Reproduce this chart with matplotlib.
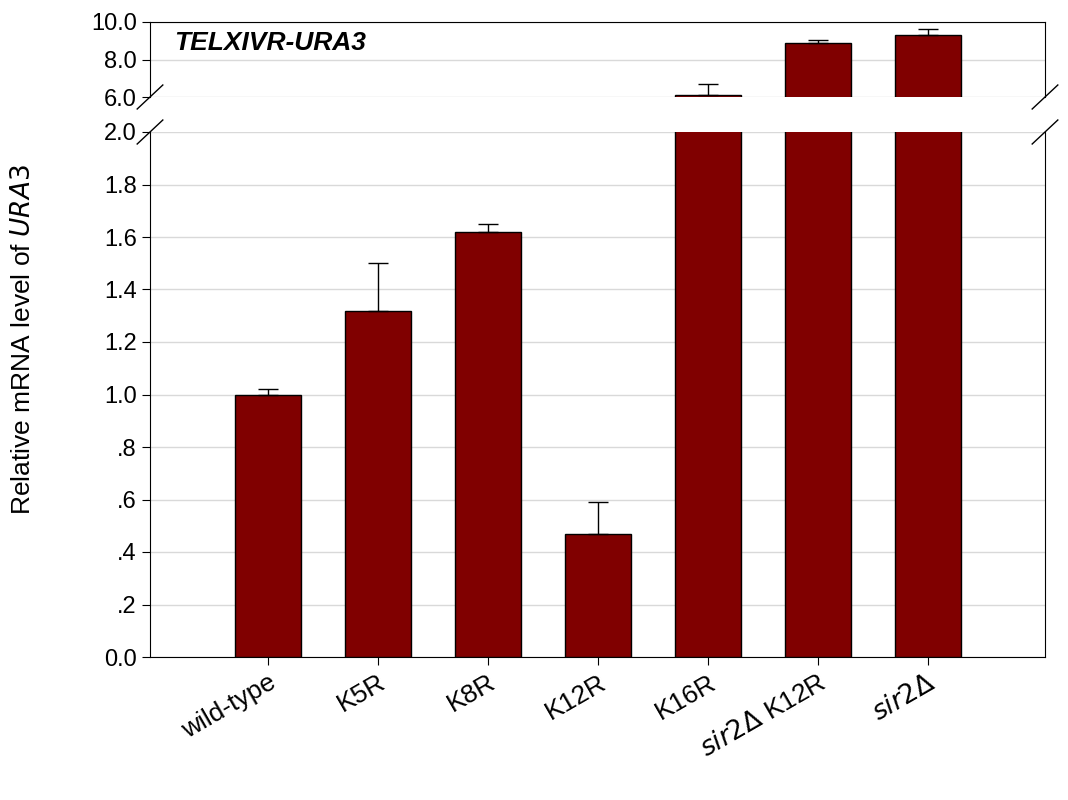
import matplotlib.pyplot as plt
import numpy as np

strains = ["wild-type", "K5R", "K8R", "K12R", "K16R", r"$\it{sir2\Delta}$ K12R", r"$\it{sir2\Delta}$"]
levels = [1.0, 1.32, 1.62, 0.47, 6.1, 8.9, 9.3]
errors = [0.02, 0.18, 0.03, 0.12, 0.6, 0.15, 0.3]

plt.rcParams['font.family'] = ['Liberation Sans', 'DejaVu Sans']
fig = plt.figure(figsize=(10.68, 8.0), dpi=100)
W, H = 1068, 800
left, right = 150 / W, 1045 / W
ax_top = fig.add_axes([left, 1 - 97 / H, right - left, 75 / H])
ax_bot = fig.add_axes([left, 1 - 657 / H, right - left, 525 / H])

x = np.arange(len(strains))
red = "#800000"
for ax in (ax_top, ax_bot):
    ax.bar(x, levels, width=0.6, color=red, edgecolor="black", linewidth=1, zorder=3)
    ax.errorbar(x, levels, yerr=[np.zeros(len(errors)), errors], fmt="none",
                ecolor="black", elinewidth=1, capsize=7, capthick=1, zorder=4)
    ax.set_xlim(-1.07, 7.06)
    ax.grid(axis="y", color="#d9d9d9", linewidth=1, zorder=0)
    ax.tick_params(labelsize=17, direction="out", length=6)

ax_top.set_ylim(6, 10)
ax_top.set_yticks([6, 8, 10])
ax_top.set_yticklabels(["6.0", "8.0", "10.0"])
ax_top.spines["bottom"].set_visible(False)
ax_top.set_xticks([])
ax_top.text(-0.85, 8.9, "TELXIVR-URA3", fontsize=19, fontweight="bold", fontstyle="italic", va="center")

ax_bot.set_ylim(0, 2)
yt = np.arange(0, 2.01, 0.2)
ax_bot.set_yticks(yt)
ax_bot.set_yticklabels(["0.0", ".2", ".4", ".6", ".8", "1.0", "1.2", "1.4", "1.6", "1.8", "2.0"])
ax_bot.spines["top"].set_visible(False)
ax_bot.set_xticks(x)
ax_bot.set_xticklabels(strains, rotation=30, ha="right", rotation_mode="anchor", fontsize=19)

# break marks
for xf in (left, right):
    for yp in (97, 132):
        yf = 1 - yp / H
        fig.add_artist(plt.Line2D([xf - 0.012, xf + 0.012], [yf - 0.015, yf + 0.015],
                                  color="black", linewidth=1, transform=fig.transFigure))

fig.text(0.022, 1 - 340 / H, r"Relative mRNA level of $\it{URA3}$", rotation=90,
         fontsize=19, va="center", ha="center")

fig.savefig("out.png", dpi=100)
